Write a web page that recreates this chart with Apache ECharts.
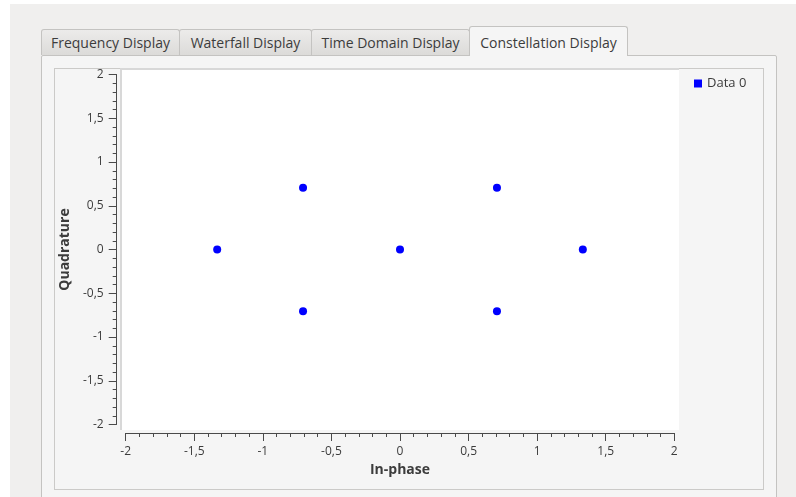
<!DOCTYPE html>
<html>
<head>
<meta charset="utf-8">
<script src="https://cdn.jsdelivr.net/npm/echarts@6/dist/echarts.min.js"></script>
<style>
  html, body { margin: 0; padding: 0; width: 796px; height: 497px; overflow: hidden; background: #fff; }
  #win { position: absolute; left: 10px; top: 4px; width: 786px; height: 493px; background: #f0efee; }
  .tab { position: absolute; top: 29px; height: 26px; box-sizing: border-box; border: 1px solid #c4c3c1; border-bottom: none;
         background: linear-gradient(#ecebea, #dcdbd9); font: 14px "Open Sans", sans-serif; color: #3c3c3c;
         line-height: 25px; text-align: center; border-radius: 3px 3px 0 0; }
  .tab.on { top: 26px; height: 30px; background: #f5f5f5; line-height: 31px; z-index: 2; }
  #pane { position: absolute; left: 41px; top: 55px; width: 736px; height: 450px; box-sizing: border-box;
          border: 1px solid #c4c3c1; background: #f5f5f5; border-radius: 2px; }
  #frame { position: absolute; left: 54px; top: 68px; width: 710px; height: 422px; box-sizing: border-box;
           border: 1px solid #cbcac8; }
  #canvas { position: absolute; left: 120px; top: 68px; width: 559px; height: 362px; box-sizing: border-box;
            background: #fff; border-top: 2px solid #d8d8d8; border-left: 2px solid #d8d8d8; }
  #chart { position: absolute; left: 0; top: 0; width: 796px; height: 497px; }
</style>
</head>
<body>
<div id="win"></div>
<div id="pane"></div>
<div class="tab" style="left:41px;width:139px;">Frequency Display</div>
<div class="tab" style="left:179px;width:133px;">Waterfall Display</div>
<div class="tab" style="left:311px;width:159px;">Time Domain Display</div>
<div class="tab on" style="left:469px;width:159px;">Constellation Display</div>
<div id="frame"></div>
<div id="canvas"></div>
<div id="chart"></div>
<script>
// constellation points (in-phase / quadrature)
var iData = [-1.333, -0.707, -0.707, 0, 0.707, 0.707, 1.333];
var qData = [0, 0.707, -0.707, 0, 0.707, -0.707, 0];
var seriesName = 'Data 0';
var axisMin = -2, axisMax = 2, axisStep = 0.5;

var fmt = function (v) { return String(v).replace('.', ','); };
var axisColor = '#4a4a4a';

var chart = echarts.init(document.getElementById('chart'));
chart.setOption({
  animation: false,
  grid: { left: 125.7, right: 121.7, top: 74.5, bottom: 72.5 },
  legend: {
    data: [seriesName],
    left: 689, top: 72,
    icon: 'rect', itemWidth: 8, itemHeight: 8, itemGap: 4,
    textStyle: { fontFamily: 'Open Sans', fontSize: 13, color: '#3c3c3c' }
  },
  xAxis: {
    type: 'value', min: axisMin, max: axisMax, interval: axisStep,
    offset: 8.5,
    name: 'In-phase', nameLocation: 'middle', nameGap: 30,
    nameTextStyle: { fontFamily: 'Open Sans', fontWeight: 'bold', fontSize: 14, color: '#3c3c3c' },
    axisLine: { onZero: false, lineStyle: { color: axisColor } },
    axisTick: { length: 8, lineStyle: { color: axisColor } },
    minorTick: { show: true, splitNumber: 5, length: 4, lineStyle: { color: axisColor } },
    splitLine: { show: false },
    axisLabel: { formatter: fmt, margin: 13, fontFamily: 'Open Sans', fontSize: 12, color: '#3c3c3c' }
  },
  yAxis: {
    type: 'value', min: axisMin, max: axisMax, interval: axisStep,
    offset: 9,
    name: 'Quadrature', nameLocation: 'middle', nameGap: 44,
    nameTextStyle: { fontFamily: 'Open Sans', fontWeight: 'bold', fontSize: 14, color: '#3c3c3c' },
    axisLine: { onZero: false, lineStyle: { color: axisColor } },
    axisTick: { length: 8, lineStyle: { color: axisColor } },
    minorTick: { show: true, splitNumber: 5, length: 4, lineStyle: { color: axisColor } },
    splitLine: { show: false },
    axisLabel: { formatter: fmt, margin: 13, fontFamily: 'Open Sans', fontSize: 12, color: '#3c3c3c' }
  },
  series: [{
    name: seriesName,
    type: 'scatter',
    symbol: 'circle',
    symbolSize: 8,
    itemStyle: { color: '#0000ff', opacity: 1 },
    data: iData.map(function (x, k) { return [x, qData[k]]; })
  }]
});
</script>
</body>
</html>
